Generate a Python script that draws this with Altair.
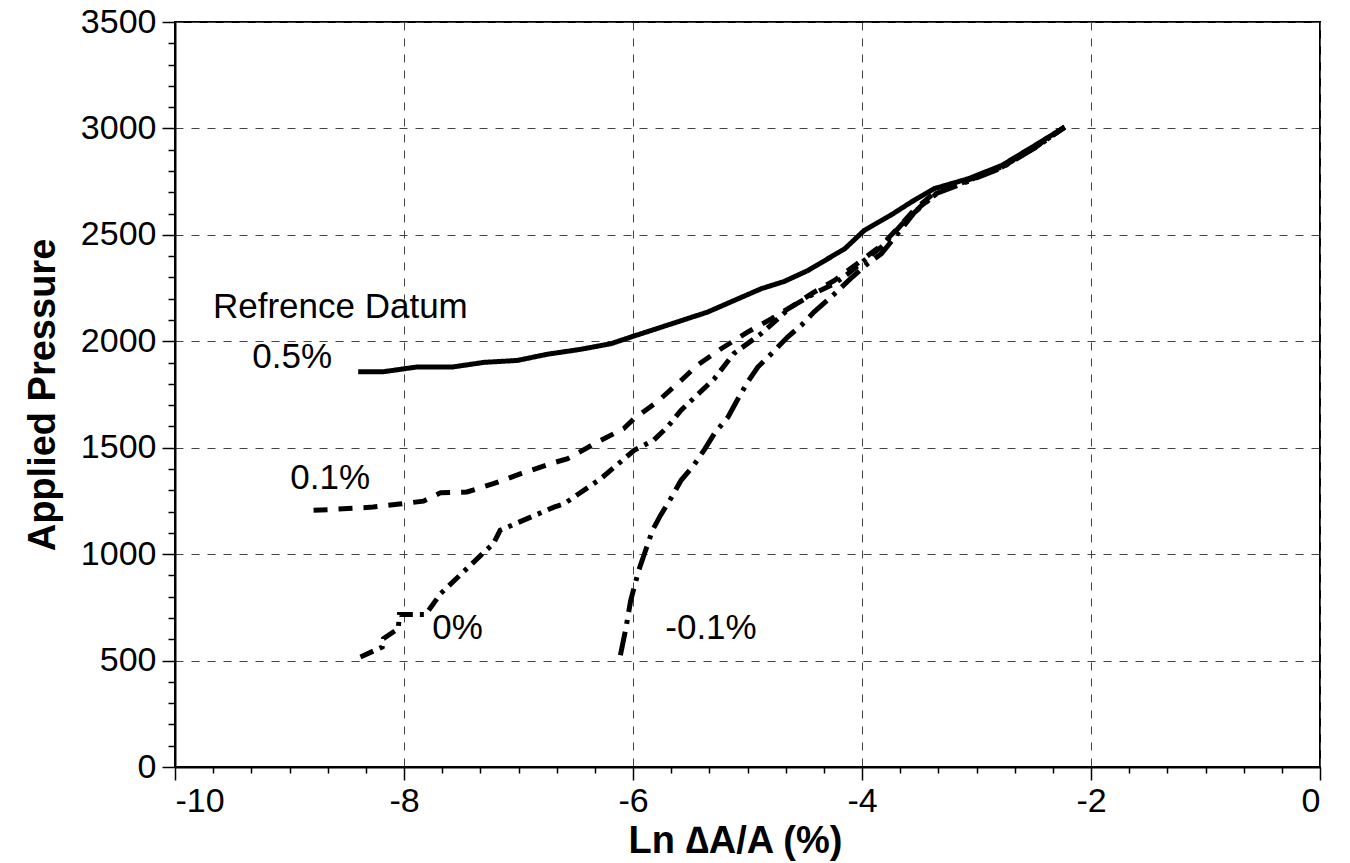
import altair as alt
import pandas as pd

# ---- data ----
series_names = ["0.5%", "0.1%", "0%", "-0.1%"]

x_05 = [-8.40, -8.18, -7.89, -7.58, -7.30, -7.01, -6.75, -6.46, -6.19, -5.99, -5.84, -5.35,
        -4.88, -4.68, -4.47, -4.15, -3.98, -3.75, -3.57, -3.37, -3.07, -2.78, -2.49, -2.23]
y_05 = [1857, 1857, 1879, 1879, 1901, 1910, 1939, 1962, 1989, 2025, 2051, 2137,
        2247, 2281, 2333, 2435, 2521, 2592, 2654, 2717, 2764, 2826, 2920, 3006]

x_01 = [-8.79, -8.59, -8.27, -8.06, -7.83, -7.68, -7.45, -7.22, -6.98, -6.72, -6.57, -6.28,
        -6.08, -5.99, -5.79, -5.58, -5.44, -5.23, -5.00, -4.79, -4.62, -4.44, -4.24, -4.04,
        -3.83, -3.69, -3.54, -3.34, -3.07, -2.78, -2.49, -2.23]
y_01 = [1206, 1211, 1221, 1234, 1249, 1289, 1292, 1331, 1378, 1425, 1449, 1535,
        1590, 1637, 1715, 1816, 1887, 1965, 2043, 2106, 2161, 2224, 2286, 2365,
        2451, 2530, 2620, 2709, 2758, 2820, 2912, 3006]

x_00 = [-8.38, -8.19, -8.18, -8.05, -8.04, -7.81, -7.68, -7.33, -7.22, -7.16, -6.69, -6.60,
        -6.28, -5.99, -5.82, -5.70, -5.58, -5.29, -5.12, -4.88, -4.62, -4.42, -4.24, -4.12,
        -3.98, -3.83, -3.66, -3.48, -3.31, -3.07, -2.78, -2.49, -2.23]
y_00 = [517, 564, 603, 650, 717, 717, 815, 994, 1049, 1112, 1221, 1237,
        1355, 1488, 1535, 1597, 1676, 1824, 1942, 2036, 2161, 2224, 2271, 2318,
        2380, 2443, 2545, 2638, 2709, 2755, 2818, 2910, 3006]

x_m01 = [-6.11, -6.06, -6.02, -5.95, -5.90, -5.83, -5.76, -5.67, -5.58, -5.47, -5.38, -5.29,
         -5.17, -5.09, -5.00, -4.91, -4.79, -4.65, -4.53, -4.42, -4.27, -4.10, -3.95, -3.83,
         -3.69, -3.54, -3.35, -3.07, -2.78, -2.49, -2.23]
y_m01 = [525, 658, 783, 924, 1002, 1112, 1182, 1261, 1347, 1417, 1488, 1566,
         1644, 1723, 1808, 1879, 1942, 2020, 2075, 2137, 2208, 2294, 2365, 2412,
         2505, 2606, 2695, 2752, 2815, 2908, 3006]

label_text = ["Refrence Datum", "0.5%", "0.1%", "0%", "-0.1%"]
label_x = [-8.556, -8.976, -8.644, -7.533, -5.319]
label_y = [2159, 1924, 1356, 651, 651]

x_ticks = [-10, -8, -6, -4, -2, 0]
y_ticks = [0, 500, 1000, 1500, 2000, 2500, 3000, 3500]
x_minor = [-10 + k / 3 for k in range(31) if k % 6 != 0]
y_minor = [v for v in range(0, 3501, 100) if v % 500 != 0]

# ---- build table ----
rows = []
for name, xs, ys in [("0.5%", x_05, y_05), ("0.1%", x_01, y_01),
                     ("0%", x_00, y_00), ("-0.1%", x_m01, y_m01)]:
    for i, (a, b) in enumerate(zip(xs, ys)):
        rows.append({"series": name, "x": a, "y": b, "order": i})
df = pd.DataFrame(rows)
labels_df = pd.DataFrame({"text": label_text, "x": label_x, "y": label_y})

FONT = "Liberation Sans"
xscale = alt.Scale(domain=[-10, 0], nice=False, zero=False)
yscale = alt.Scale(domain=[0, 3500], nice=False)

x_axis = alt.Axis(values=x_ticks, labelExpr="'' + datum.value", title="Ln \u2206A/A (%)",
                  titleFont=FONT, titleFontSize=38, titleFontWeight="bold", titleColor="black",
                  titlePadding=4, titleX=560, labelFont=FONT, labelFontSize=34, labelColor="black",
                  labelPadding=4, tickSize=13, tickWidth=1.5, tickColor="black",
                  domainColor="black", domainWidth=2, grid=True, gridDash=[8, 8],
                  gridColor="#444", gridWidth=1, orient="bottom")
y_axis = alt.Axis(values=y_ticks, labelExpr="'' + datum.value", title="Applied Pressure",
                  titleFont=FONT, titleFontSize=38, titleFontWeight="bold", titleColor="black",
                  titlePadding=18, labelFont=FONT, labelFontSize=34, labelColor="black",
                  labelPadding=6, tickSize=13, tickWidth=1.5, tickColor="black",
                  domainColor="black", domainWidth=2, grid=True, gridDash=[8, 8],
                  gridColor="#444", gridWidth=1, orient="left")

lines = alt.Chart(df).mark_line(color="black", strokeWidth=5, strokeCap="butt").encode(
    x=alt.X("x:Q", scale=xscale, axis=x_axis),
    y=alt.Y("y:Q", scale=yscale, axis=y_axis),
    detail="series:N",
    order="order:Q",
    strokeDash=alt.StrokeDash("series:N", legend=None,
                              scale=alt.Scale(domain=series_names,
                                              range=[[1, 0], [14, 11], [14, 7, 4, 7], [24, 8, 4, 8]])),
)

texts = alt.Chart(labels_df).mark_text(font=FONT, fontSize=35, color="black",
                                       align="center", baseline="middle").encode(
    x=alt.X("x:Q", scale=xscale, axis=None),
    y=alt.Y("y:Q", scale=yscale, axis=None),
    text="text:N",
)

minor = alt.Chart(labels_df).mark_point(opacity=0).encode(
    x=alt.X("x:Q", scale=xscale,
            axis=alt.Axis(values=x_minor, labels=False, title=None, grid=False, domain=False,
                          tickSize=6, tickWidth=1.5, tickColor="black", orient="bottom")),
    y=alt.Y("y:Q", scale=yscale,
            axis=alt.Axis(values=y_minor, labels=False, title=None, grid=False, domain=False,
                          tickSize=7, tickWidth=1.5, tickColor="black", orient="left")),
)

chart = alt.layer(lines, texts, minor).resolve_axis(x="independent", y="independent").properties(
    width=1145, height=745,
    autosize=alt.AutoSizeParams(type="none"),
    padding={"left": 175, "top": 22, "right": 30, "bottom": 96},
    background="white",
).configure_view(stroke="black", strokeWidth=2)

chart.save("out.html", embed_options={"renderer": "svg", "actions": False})
